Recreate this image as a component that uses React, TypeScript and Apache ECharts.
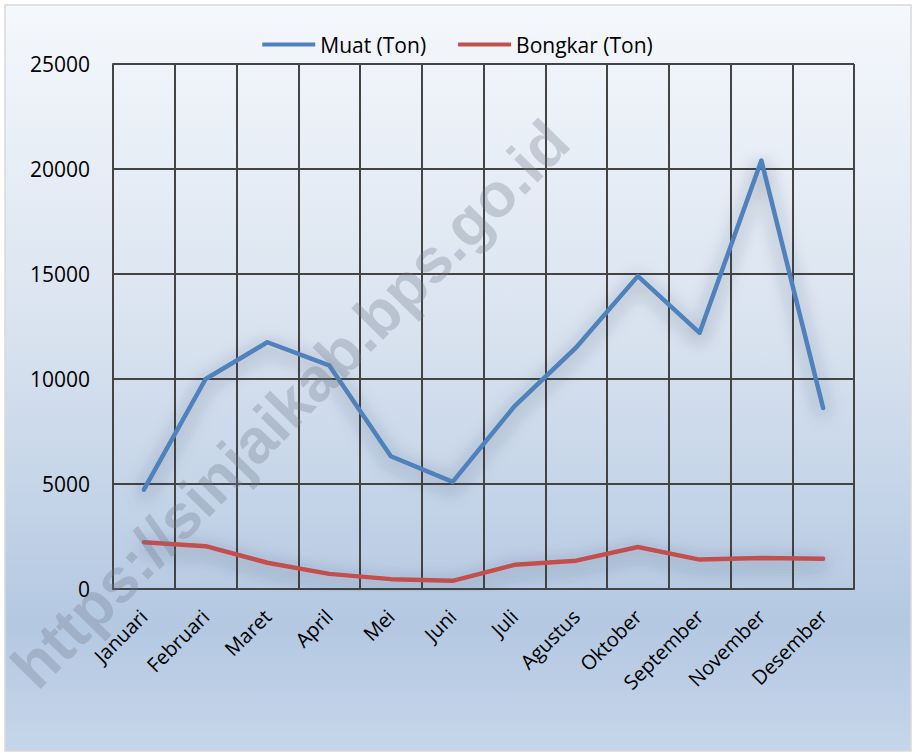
import React, { useEffect, useRef } from "react";
import * as echarts from "echarts";

const categories = ["Januari", "Februari", "Maret", "April", "Mei", "Juni", "Juli", "Agustus", "Oktober", "September", "November", "Desember"];
const muat = [4730, 10000, 11750, 10650, 6320, 5100, 8700, 11500, 14900, 12200, 20400, 8620];
const bongkar = [2230, 2040, 1250, 720, 470, 390, 1150, 1350, 2000, 1400, 1480, 1440];
const seriesNames = ["Muat (Ton)", "Bongkar (Ton)"];
const yTicks = { min: 0, max: 25000, interval: 5000 };
const watermark = "https://sinjaikab.bps.go.id";

const FONT = "Open Sans";

export default function App() {
  const ref = useRef<HTMLDivElement>(null);
  useEffect(() => {
    document.body.style.margin = "0";
    const chart = echarts.init(ref.current!, null, { renderer: "svg" });
    const shadow = { shadowBlur: 18, shadowColor: "rgba(40,50,70,0.55)", shadowOffsetX: 0, shadowOffsetY: 5 };
    chart.setOption({
      animation: false,
      backgroundColor: "#ffffff",
      graphic: [
        {
          type: "rect",
          z: -10,
          silent: true,
          shape: { x: 5, y: 5, width: 906, height: 746 },
          style: {
            fill: new echarts.graphic.LinearGradient(0, 0, 0, 1, [
              { offset: 0, color: "#f5f8fc" },
              { offset: 0.45, color: "#d8e2ef" },
              { offset: 0.83, color: "#b4c8e2" },
              { offset: 1, color: "#c6d6ea" },
            ]),
            stroke: "#d9d9d9",
            lineWidth: 1.5,
          },
        },
        {
          type: "text",
          z: 50,
          silent: true,
          x: 290,
          y: 404,
          rotation: 0.795,
          style: {
            text: watermark,
            font: "bold 62px 'Liberation Sans'",
            fill: "rgba(110,120,135,0.30)",
            align: "center",
            verticalAlign: "middle",
          },
        },
      ],
      legend: {
        top: 29,
        left: "center",
        data: seriesNames.map((n) => ({ name: n, icon: "rect" })),
        itemWidth: 53,
        itemHeight: 4,
        itemGap: 32,
        textStyle: { fontFamily: FONT, fontSize: 21, color: "#000" },
      },
      grid: { left: 113, right: 61, top: 64, bottom: 164, containLabel: false },
      xAxis: {
        type: "category",
        data: categories,
        boundaryGap: true,
        axisLine: { show: true, lineStyle: { color: "#444", width: 2 } },
        axisTick: { show: false },
        splitLine: { show: true, lineStyle: { color: "#444", width: 2 } },
        axisLabel: {
          rotate: 45,
          margin: 24,
          interval: 0,
          fontFamily: FONT,
          fontSize: 20,
          color: "#000",
        },
      },
      yAxis: {
        type: "value",
        min: yTicks.min,
        max: yTicks.max,
        interval: yTicks.interval,
        axisLine: { show: true, lineStyle: { color: "#444", width: 2 } },
        axisTick: { show: false },
        splitLine: { show: true, lineStyle: { color: "#444", width: 2 } },
        axisLabel: { margin: 23, fontFamily: FONT, fontSize: 21, color: "#000", formatter: (v: number) => String(v) },
      },
      series: [
        {
          name: seriesNames[0],
          type: "line",
          data: muat,
          symbol: "none",
          lineStyle: { color: "#4f81bd", width: 4.5, cap: "round", join: "round", ...shadow },
          itemStyle: { color: "#4f81bd" },
        },
        {
          name: seriesNames[1],
          type: "line",
          data: bongkar,
          symbol: "none",
          lineStyle: { color: "#c0504d", width: 4.5, cap: "round", join: "round", ...shadow },
          itemStyle: { color: "#c0504d" },
        },
      ],
    });
    return () => chart.dispose();
  }, []);
  return <div ref={ref} style={{ position: "absolute", left: 0, top: 0, width: 915, height: 753 }} />;
}
